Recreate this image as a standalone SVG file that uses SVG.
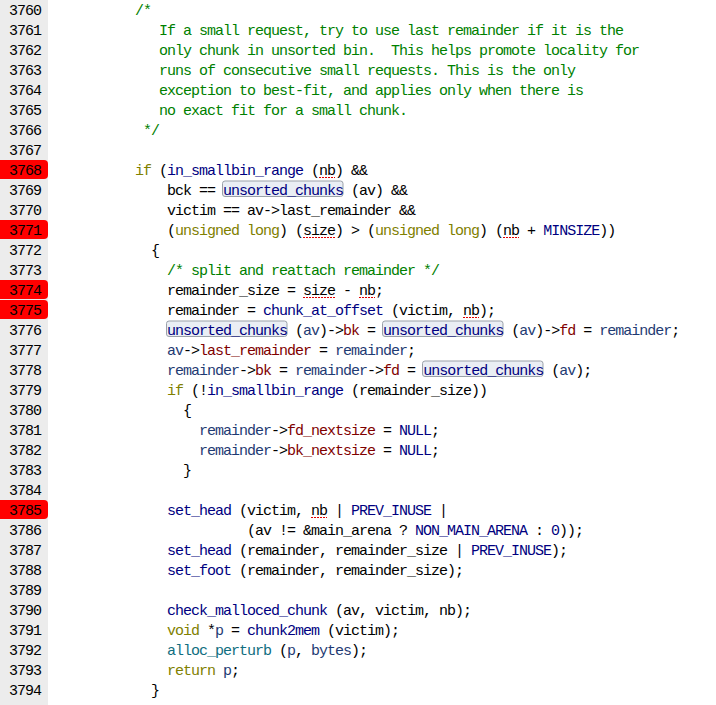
<svg xmlns="http://www.w3.org/2000/svg" width="716" height="705" viewBox="0 0 716 705" xml:space="preserve">
<style>
text{font-family:"Liberation Mono","DejaVu Sans Mono",monospace;font-size:15px;letter-spacing:-1px;fill:#000;white-space:pre}
.c{fill:#008000}.k{fill:#808000}.m{fill:#000080}.v{fill:#1f3b73}.f{fill:#800000}.t{fill:#106e80}
.hl{fill:#ff0000}
.box{fill:#eaeef4;stroke:#9ba1a9;stroke-width:1}
.sq{stroke:#e00000;stroke-width:1;stroke-dasharray:2 1;fill:none}
</style>
<rect x="0" y="0" width="716" height="705" fill="#ffffff"/>
<g id="gutter">
<rect x="0" y="0" width="48" height="705" fill="#ececec"/>
<path class="hl" d="M0,160h44a4,4 0 0 1 4,4v11a4,4 0 0 1 -4,4h-44z"/>
<path class="hl" d="M0,220h44a4,4 0 0 1 4,4v11a4,4 0 0 1 -4,4h-44z"/>
<path class="hl" d="M0,280h44a4,4 0 0 1 4,4v11a4,4 0 0 1 -4,4h-44z"/>
<path class="hl" d="M0,300h44a4,4 0 0 1 4,4v11a4,4 0 0 1 -4,4h-44z"/>
<path class="hl" d="M0,500h44a4,4 0 0 1 4,4v11a4,4 0 0 1 -4,4h-44z"/>
<text x="9" y="15">3760</text>
<text x="9" y="35">3761</text>
<text x="9" y="55">3762</text>
<text x="9" y="75">3763</text>
<text x="9" y="95">3764</text>
<text x="9" y="115">3765</text>
<text x="9" y="135">3766</text>
<text x="9" y="155">3767</text>
<text x="9" y="175">3768</text>
<text x="9" y="195">3769</text>
<text x="9" y="215">3770</text>
<text x="9" y="235">3771</text>
<text x="9" y="255">3772</text>
<text x="9" y="275">3773</text>
<text x="9" y="295">3774</text>
<text x="9" y="315">3775</text>
<text x="9" y="335">3776</text>
<text x="9" y="355">3777</text>
<text x="9" y="375">3778</text>
<text x="9" y="395">3779</text>
<text x="9" y="415">3780</text>
<text x="9" y="435">3781</text>
<text x="9" y="455">3782</text>
<text x="9" y="475">3783</text>
<text x="9" y="495">3784</text>
<text x="9" y="515">3785</text>
<text x="9" y="535">3786</text>
<text x="9" y="555">3787</text>
<text x="9" y="575">3788</text>
<text x="9" y="595">3789</text>
<text x="9" y="615">3790</text>
<text x="9" y="635">3791</text>
<text x="9" y="655">3792</text>
<text x="9" y="675">3793</text>
<text x="9" y="695">3794</text>
</g>
<g id="marks">
<rect class="box" x="222.5" y="181" width="120.5" height="15.5" rx="2.5"/>
<rect class="box" x="166.5" y="321" width="120.5" height="15.5" rx="2.5"/>
<rect class="box" x="382.5" y="321" width="120.5" height="15.5" rx="2.5"/>
<rect class="box" x="422.5" y="361" width="120.5" height="15.5" rx="2.5"/>
<line class="sq" x1="319" y1="177.5" x2="335" y2="177.5"/>
<line class="sq" x1="303" y1="237.5" x2="335" y2="237.5"/>
<line class="sq" x1="503" y1="237.5" x2="519" y2="237.5"/>
<line class="sq" x1="303" y1="297.5" x2="335" y2="297.5"/>
<line class="sq" x1="359" y1="297.5" x2="375" y2="297.5"/>
<line class="sq" x1="463" y1="317.5" x2="479" y2="317.5"/>
<line class="sq" x1="311" y1="517.5" x2="327" y2="517.5"/>
</g>
<g id="code">
<text x="135" y="15" class="c">/*</text>
<text x="159" y="35" class="c">If a small request, try to use last remainder if it is the</text>
<text x="159" y="55" class="c">only chunk in unsorted bin.  This helps promote locality for</text>
<text x="159" y="75" class="c">runs of consecutive small requests. This is the only</text>
<text x="159" y="95" class="c">exception to best-fit, and applies only when there is</text>
<text x="159" y="115" class="c">no exact fit for a small chunk.</text>
<text x="143" y="135" class="c">*/</text>
<text x="135" y="175"><tspan class="k">if</tspan> (<tspan class="m">in_smallbin_range</tspan> (nb) &amp;&amp;</text>
<text x="167" y="195">bck == <tspan class="m">unsorted_chunks</tspan> (av) &amp;&amp;</text>
<text x="167" y="215">victim == av-&gt;last_remainder &amp;&amp;</text>
<text x="167" y="235">(<tspan class="k">unsigned long</tspan>) (size) &gt; (<tspan class="k">unsigned long</tspan>) (nb + <tspan class="m">MINSIZE</tspan>))</text>
<text x="151" y="255">{</text>
<text x="167" y="275" class="c">/* split and reattach remainder */</text>
<text x="167" y="295">remainder_size = size - nb;</text>
<text x="167" y="315">remainder = <tspan class="m">chunk_at_offset</tspan> (victim, nb);</text>
<text x="167" y="335"><tspan class="m">unsorted_chunks</tspan> (<tspan class="v">av</tspan>)-&gt;<tspan class="f">bk</tspan> = <tspan class="m">unsorted_chunks</tspan> (<tspan class="v">av</tspan>)-&gt;<tspan class="f">fd</tspan> = <tspan class="v">remainder</tspan>;</text>
<text x="167" y="355"><tspan class="v">av</tspan>-&gt;<tspan class="f">last_remainder</tspan> = <tspan class="v">remainder</tspan>;</text>
<text x="167" y="375"><tspan class="v">remainder</tspan>-&gt;<tspan class="f">bk</tspan> = <tspan class="v">remainder</tspan>-&gt;<tspan class="f">fd</tspan> = <tspan class="m">unsorted_chunks</tspan> (<tspan class="v">av</tspan>);</text>
<text x="167" y="395"><tspan class="k">if</tspan> (!<tspan class="m">in_smallbin_range</tspan> (remainder_size))</text>
<text x="183" y="415">{</text>
<text x="199" y="435"><tspan class="v">remainder</tspan>-&gt;<tspan class="f">fd_nextsize</tspan> = <tspan class="m">NULL</tspan>;</text>
<text x="199" y="455"><tspan class="v">remainder</tspan>-&gt;<tspan class="f">bk_nextsize</tspan> = <tspan class="m">NULL</tspan>;</text>
<text x="183" y="475">}</text>
<text x="167" y="515"><tspan class="m">set_head</tspan> (victim, nb | <tspan class="m">PREV_INUSE</tspan> |</text>
<text x="247" y="535">(av != &amp;main_arena ? <tspan class="m">NON_MAIN_ARENA</tspan> : <tspan class="m">0</tspan>));</text>
<text x="167" y="555"><tspan class="m">set_head</tspan> (remainder, remainder_size | <tspan class="m">PREV_INUSE</tspan>);</text>
<text x="167" y="575"><tspan class="m">set_foot</tspan> (remainder, remainder_size);</text>
<text x="167" y="615"><tspan class="m">check_malloced_chunk</tspan> (av, victim, nb);</text>
<text x="167" y="635"><tspan class="k">void</tspan> *<tspan class="v">p</tspan> = <tspan class="m">chunk2mem</tspan> (victim);</text>
<text x="167" y="655"><tspan class="t">alloc_perturb</tspan> (<tspan class="v">p</tspan>, <tspan class="v">bytes</tspan>);</text>
<text x="167" y="675"><tspan class="k">return</tspan> <tspan class="v">p</tspan>;</text>
<text x="151" y="695">}</text>
</g>
</svg>
